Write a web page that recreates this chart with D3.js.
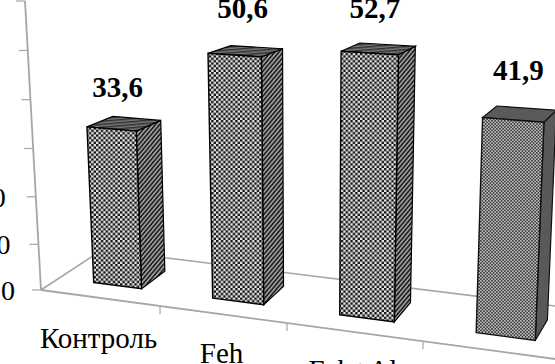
<!DOCTYPE html>
<html>
<head>
<meta charset="utf-8">
<script src="https://cdn.jsdelivr.net/npm/d3@7"></script>
<style>
html, body { margin: 0; padding: 0; background: #fff; overflow: hidden; }
text { font-family: "Liberation Serif", serif; fill: #000; }
</style>
</head>
<body>
<div id="chart"></div>
<script>
var categories = ["Контроль", "Feh", "Feh+Al", "Feh+Al+Mn"];
var values = [33.6, 50.6, 52.7, 41.9];
var valueLabels = ["33,6", "50,6", "52,7", "41,9"];
var yTicks = [0, 10, 20, 30, 40, 50, 60];
// only these tick labels reach into the picture
var yLabels = [0, 10, 20];

var width = 555, height = 364;

var svg = d3.select("#chart").append("svg")
	.attr("width", width)
	.attr("height", height);

// corners of the 3d box on screen, [front/back][left/right][floor/top]
var box = {
	fl0: [41, 290], fl1: [25, 1],
	fr0: [570, 361], fr1: [585, 33],
	bl0: [102, 250], bl1: [92, -10],
	br0: [596, 311], br1: [611, 13]
};

// category slots get wider towards the viewer
var uScale = d3.scaleLinear().domain([0, 1, 2, 3, 4]).range([0, 0.225, 0.465, 0.722, 1]);
// the value axis is slightly stretched at the top
var hScale = d3.scalePow().exponent(1.03).domain([0, 60]).range([0, 1]);

function mix(a, b, t) {
	return [a[0] + (b[0] - a[0]) * t, a[1] + (b[1] - a[1]) * t];
}

// slot position, depth 0..1, value -> screen
function project(u, d, v) {
	var t = uScale(u), h = hScale(v);
	var front = mix(mix(box.fl0, box.fr0, t), mix(box.fl1, box.fr1, t), h);
	var back = mix(mix(box.bl0, box.br0, t), mix(box.bl1, box.br1, t), h);
	return mix(front, back, d);
}

var defs = svg.append("defs");

function checker(id, size, dark, light) {
	var p = defs.append("pattern").attr("id", id)
		.attr("patternUnits", "userSpaceOnUse")
		.attr("width", size).attr("height", size);
	p.append("rect").attr("width", size).attr("height", size).attr("fill", light);
	p.append("rect").attr("width", size / 2).attr("height", size / 2).attr("fill", dark);
	p.append("rect").attr("x", size / 2).attr("y", size / 2)
		.attr("width", size / 2).attr("height", size / 2).attr("fill", dark);
}

function stripes(id, size, angle, dark, light) {
	var p = defs.append("pattern").attr("id", id)
		.attr("patternUnits", "userSpaceOnUse")
		.attr("width", size).attr("height", size)
		.attr("patternTransform", "rotate(" + angle + ")");
	p.append("rect").attr("width", size).attr("height", size).attr("fill", light);
	p.append("rect").attr("width", size / 2).attr("height", size).attr("fill", dark);
}

checker("frontFill", 4.8, "#141414", "#e6e6e6");
checker("frontFine", 3.2, "#3c3c3c", "#c0c0c0");
stripes("sideFill", 3.2, 40, "#222", "#9c9c9c");
stripes("topFill", 3, 85, "#303030", "#7a7a7a");

var axisColor = "#a6a6a6";
var line = d3.line();

// floor
svg.append("path").attr("fill", "none").attr("stroke", axisColor).attr("stroke-width", 1.6)
	.attr("d", line([project(0, 0, 0), project(0, 1, 0), project(4, 1, 0)]));
svg.append("path").attr("fill", "none").attr("stroke", axisColor).attr("stroke-width", 1.8)
	.attr("d", line([project(0, 0, 0), project(4, 0, 0)]));

// value axis
svg.append("path").attr("fill", "none").attr("stroke", axisColor).attr("stroke-width", 1.8)
	.attr("d", line([project(0, 0, 0), project(0, 0, 60)]));

yTicks.forEach(function(t) {
	var p = project(0, 0, t);
	svg.append("line")
		.attr("x1", p[0] - 9).attr("x2", p[0]).attr("y1", p[1]).attr("y2", p[1])
		.attr("stroke", axisColor).attr("stroke-width", 1.2);
});

yLabels.forEach(function(t) {
	var p = project(0, 0, t);
	svg.append("text")
		.attr("x", p[0] - 26 - t * 0.2).attr("y", p[1] + 10)
		.attr("text-anchor", "end").attr("font-size", 28)
		.text(t);
});

// category ticks and labels
d3.range(1, 4).forEach(function(u) {
	var p = project(u, 0, 0);
	svg.append("line")
		.attr("x1", p[0]).attr("x2", p[0]).attr("y1", p[1]).attr("y2", p[1] + 8)
		.attr("stroke", axisColor).attr("stroke-width", 1.2);
});

categories.forEach(function(c, i) {
	var p = project(i + 0.5, 0, 0);
	svg.append("text")
		.attr("x", p[0] - 2).attr("y", p[1] + 50 - i)
		.attr("text-anchor", "middle").attr("font-size", 29)
		.text(c);
});

// bars do not overlap, so the order does not matter
var barW = 0.205, d0 = 0.3, d1 = 0.72;
// value label offsets from the top of the front face
var labelDx = [6, 8, 5, 5], labelDy = [-32, -37, -35, -40];

values.forEach(function(v, i) {
	var c = i + 0.5;
	var a = c - barW, b = c + barW;
	var fine = i === 3;

	var edge = fine ? "#111" : "#000";
	var side = [project(b, d0, 0), project(b, d1, 0), project(b, d1, v), project(b, d0, v)];
	var top = [project(a, d0, v), project(b, d0, v), project(b, d1, v), project(a, d1, v)];
	var front = [project(a, d0, 0), project(b, d0, 0), project(b, d0, v), project(a, d0, v)];

	svg.append("path").attr("d", line(side) + "Z")
		.attr("fill", fine ? "#595959" : "url(#sideFill)")
		.attr("stroke", edge).attr("stroke-width", 1.2);
	svg.append("path").attr("d", line(top) + "Z")
		.attr("fill", fine ? "#5a5a5a" : "url(#topFill)")
		.attr("stroke", edge).attr("stroke-width", 1.2);
	svg.append("path").attr("d", line(front) + "Z")
		.attr("fill", fine ? "url(#frontFine)" : "url(#frontFill)")
		.attr("stroke", edge).attr("stroke-width", 1.4);

	var tc = project(c, d0, v);
	svg.append("text")
		.attr("x", tc[0] + labelDx[i]).attr("y", tc[1] + labelDy[i])
		.attr("text-anchor", "middle").attr("font-size", 29).attr("font-weight", "bold")
		.text(valueLabels[i]);
});
</script>
</body>
</html>
